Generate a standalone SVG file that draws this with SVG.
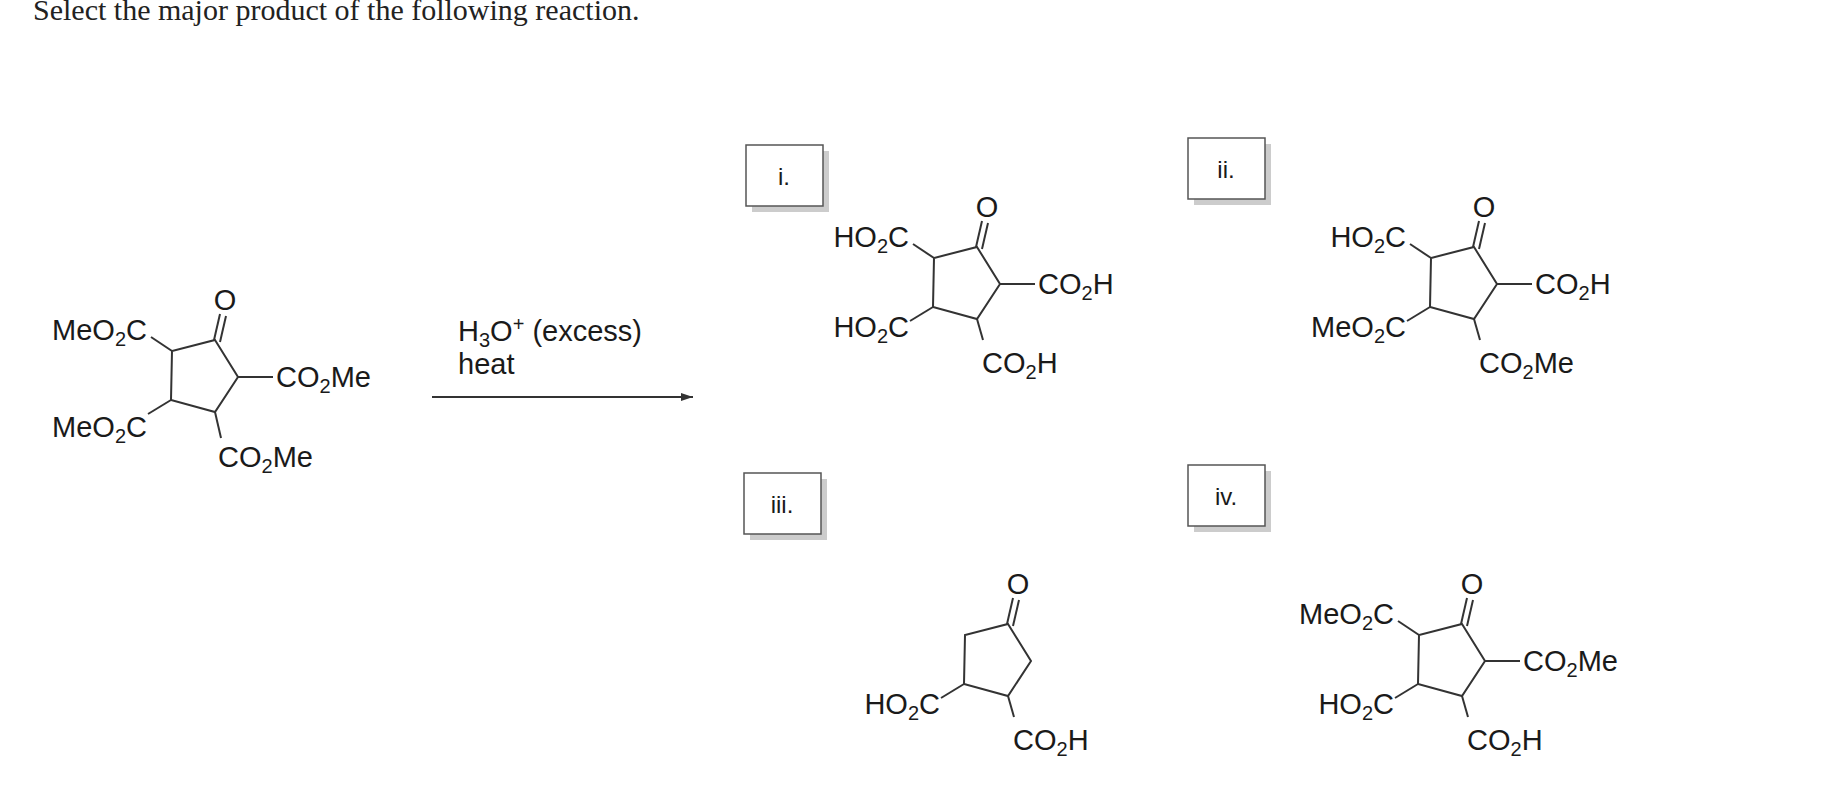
<svg xmlns="http://www.w3.org/2000/svg" width="1844" height="804" viewBox="0 0 1844 804">
<style>
.t{font-family:"Liberation Sans",Arial,sans-serif;font-size:29px;fill:#1a1a1a}
.s{font-size:20px}
.b{stroke:#333;stroke-width:2;fill:none}
.box{fill:#fff;stroke:#555;stroke-width:1.5}
.sh{fill:#ccc}
.title{font-family:"Liberation Serif","Times New Roman",serif;font-size:30px;fill:#222}
</style>
<defs>
<marker id="ah" markerWidth="12" markerHeight="8" refX="12" refY="4" orient="auto" markerUnits="userSpaceOnUse"><path d="M0,0 L12,4 L0,8 Z" fill="#333"/></marker>
<g id="core">
<path class="b" d="M0,0 L23,37 L0,72 L-44,60 L-43,11 Z"/>
<line class="b" x1="-1" y1="0" x2="5" y2="-26"/>
<line class="b" x1="5" y1="2" x2="11" y2="-24"/>
<text class="t" x="10" y="-30" text-anchor="middle">O</text>
</g>
</defs>
<text class="title" x="33" y="20">Select the major product of the following reaction.</text>

<g id="sm" transform="translate(215,340)">
<use href="#core"/>
<line class="b" x1="-43" y1="11" x2="-64" y2="-3"/>
<text class="t" x="-68" y="0" text-anchor="end">MeO<tspan class="s" dy="6">2</tspan><tspan dy="-6">C</tspan></text>
<line class="b" x1="23" y1="37" x2="58" y2="37"/>
<text class="t" x="61" y="47">CO<tspan class="s" dy="6">2</tspan><tspan dy="-6">Me</tspan></text>
<line class="b" x1="-44" y1="60" x2="-67" y2="74"/>
<text class="t" x="-68" y="97" text-anchor="end">MeO<tspan class="s" dy="6">2</tspan><tspan dy="-6">C</tspan></text>
<line class="b" x1="0" y1="72" x2="6" y2="98"/>
<text class="t" x="3" y="127">CO<tspan class="s" dy="6">2</tspan><tspan dy="-6">Me</tspan></text>
</g>

<g id="reagents">
<text class="t" x="458" y="341">H<tspan class="s" dy="6">3</tspan><tspan dy="-6">O</tspan><tspan class="s" dy="-10">+</tspan><tspan dy="10"> (excess)</tspan></text>
<text class="t" x="458" y="374">heat</text>
</g>
<g id="connectors">
<line x1="432" y1="397" x2="693" y2="397" stroke="#333" stroke-width="2" marker-end="url(#ah)"/>
</g>

<g id="box-i">
<rect class="sh" x="752" y="151" width="77" height="61"/>
<rect class="box" x="746" y="145" width="77" height="61"/>
<text class="t" x="784" y="185" text-anchor="middle" style="font-size:24px">i.</text>
</g>
<g id="prod-i" transform="translate(977,247)">
<use href="#core"/>
<line class="b" x1="-43" y1="11" x2="-64" y2="-3"/>
<text class="t" x="-68" y="0" text-anchor="end">HO<tspan class="s" dy="6">2</tspan><tspan dy="-6">C</tspan></text>
<line class="b" x1="23" y1="37" x2="58" y2="37"/>
<text class="t" x="61" y="47">CO<tspan class="s" dy="6">2</tspan><tspan dy="-6">H</tspan></text>
<line class="b" x1="-44" y1="60" x2="-67" y2="74"/>
<text class="t" x="-68" y="90" text-anchor="end">HO<tspan class="s" dy="6">2</tspan><tspan dy="-6">C</tspan></text>
<line class="b" x1="0" y1="72" x2="6" y2="93"/>
<text class="t" x="5" y="126">CO<tspan class="s" dy="6">2</tspan><tspan dy="-6">H</tspan></text>
</g>

<g id="box-ii">
<rect class="sh" x="1194" y="144" width="77" height="61"/>
<rect class="box" x="1188" y="138" width="77" height="61"/>
<text class="t" x="1226" y="178" text-anchor="middle" style="font-size:24px">ii.</text>
</g>
<g id="prod-ii" transform="translate(1474,247)">
<use href="#core"/>
<line class="b" x1="-43" y1="11" x2="-64" y2="-3"/>
<text class="t" x="-68" y="0" text-anchor="end">HO<tspan class="s" dy="6">2</tspan><tspan dy="-6">C</tspan></text>
<line class="b" x1="23" y1="37" x2="58" y2="37"/>
<text class="t" x="61" y="47">CO<tspan class="s" dy="6">2</tspan><tspan dy="-6">H</tspan></text>
<line class="b" x1="-44" y1="60" x2="-67" y2="74"/>
<text class="t" x="-68" y="90" text-anchor="end">MeO<tspan class="s" dy="6">2</tspan><tspan dy="-6">C</tspan></text>
<line class="b" x1="0" y1="72" x2="6" y2="93"/>
<text class="t" x="5" y="126">CO<tspan class="s" dy="6">2</tspan><tspan dy="-6">Me</tspan></text>
</g>

<g id="box-iii">
<rect class="sh" x="750" y="479" width="77" height="61"/>
<rect class="box" x="744" y="473" width="77" height="61"/>
<text class="t" x="782" y="513" text-anchor="middle" style="font-size:24px">iii.</text>
</g>
<g id="prod-iii" transform="translate(1008,624)">
<use href="#core"/>
<line class="b" x1="-44" y1="60" x2="-67" y2="74"/>
<text class="t" x="-68" y="90" text-anchor="end">HO<tspan class="s" dy="6">2</tspan><tspan dy="-6">C</tspan></text>
<line class="b" x1="0" y1="72" x2="6" y2="93"/>
<text class="t" x="5" y="126">CO<tspan class="s" dy="6">2</tspan><tspan dy="-6">H</tspan></text>
</g>

<g id="box-iv">
<rect class="sh" x="1194" y="471" width="77" height="61"/>
<rect class="box" x="1188" y="465" width="77" height="61"/>
<text class="t" x="1226" y="505" text-anchor="middle" style="font-size:24px">iv.</text>
</g>
<g id="prod-iv" transform="translate(1462,624)">
<use href="#core"/>
<line class="b" x1="-43" y1="11" x2="-64" y2="-3"/>
<text class="t" x="-68" y="0" text-anchor="end">MeO<tspan class="s" dy="6">2</tspan><tspan dy="-6">C</tspan></text>
<line class="b" x1="23" y1="37" x2="58" y2="37"/>
<text class="t" x="61" y="47">CO<tspan class="s" dy="6">2</tspan><tspan dy="-6">Me</tspan></text>
<line class="b" x1="-44" y1="60" x2="-67" y2="74"/>
<text class="t" x="-68" y="90" text-anchor="end">HO<tspan class="s" dy="6">2</tspan><tspan dy="-6">C</tspan></text>
<line class="b" x1="0" y1="72" x2="6" y2="93"/>
<text class="t" x="5" y="126">CO<tspan class="s" dy="6">2</tspan><tspan dy="-6">H</tspan></text>
</g>
</svg>
